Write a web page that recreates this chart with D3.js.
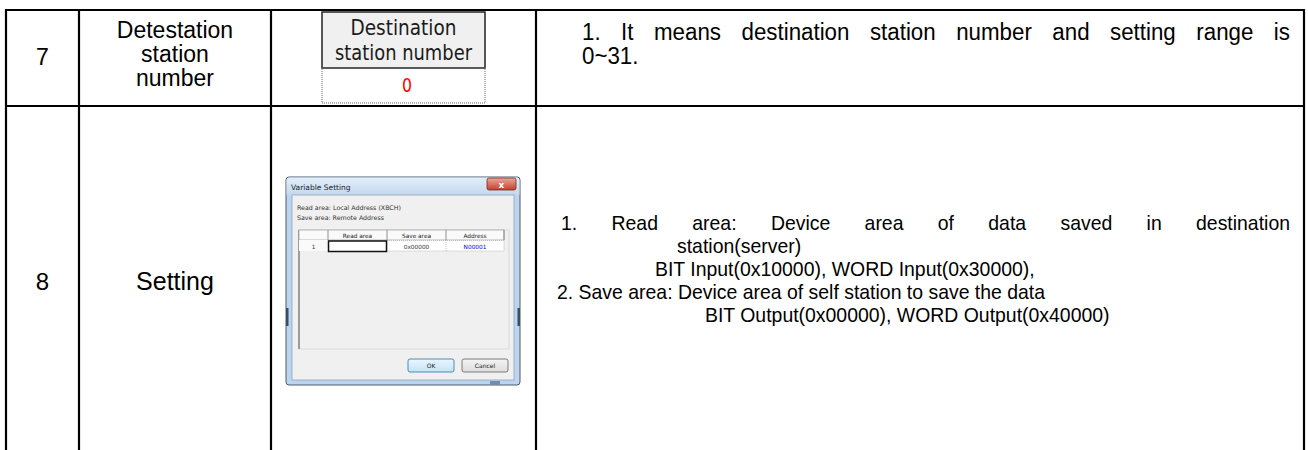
<!DOCTYPE html>
<html><head><meta charset="utf-8">
<script src="https://cdn.jsdelivr.net/npm/d3@7"></script>
<style>
html,body{margin:0;padding:0;background:#fff;overflow:hidden;}
svg{display:block;}
</style></head><body>
<svg id="chart" width="1308" height="450"></svg>
<script>
// ---- data ----
const rowNumbers = ["7", "8"];
const rowNames = [["Detestation", "station", "number"], ["Setting"]];
const row7Desc = ["1. It means destination station number and setting range is", "0~31."];
const row8Desc = [
  "1. Read area: Device area of data saved in destination",
  "station(server)",
  "BIT Input(0x10000), WORD Input(0x30000),",
  "2. Save area: Device area of self station to save the data",
  "BIT Output(0x00000), WORD Output(0x40000)"
];
const fieldLabel = ["Destination", "station number"];
const fieldValue = ["0"];
const dialogTitle = ["Variable Setting"];
const dialogInfo = ["Read area: Local Address (XBCH)", "Save area: Remote Address"];
const gridHeaders = ["", "Read area", "Save area", "Address"];
const gridRow = ["1", "", "0x00000", "N00001"];
const dialogButtons = ["OK", "Cancel"];

// ---- layout ----
const svg = d3.select("#chart");
const FONT = "'Liberation Sans', Arial, sans-serif";
const colX = d3.scaleOrdinal().domain([0, 1, 2, 3, 4]).range([6, 79, 271, 536, 1304]);
const rowY = d3.scaleOrdinal().domain([0, 1, 2]).range([10, 106, 470]);

// table borders
const grid = svg.append("g").attr("stroke", "#000").attr("stroke-width", 2.2);
[0, 1, 2, 3, 4].forEach(c => grid.append("line")
  .attr("x1", colX(c)).attr("x2", colX(c)).attr("y1", rowY(0) - 1).attr("y2", rowY(2)));
[0, 1].forEach(r => grid.append("line")
  .attr("x1", colX(0) - 1).attr("x2", colX(4) + 1).attr("y1", rowY(r)).attr("y2", rowY(r)));

// column 1: numbers
const numBase = [65, 290];
const numSize = [23, 24];
svg.selectAll("text.num").data(rowNumbers).join("text").attr("class", "num")
  .attr("x", (d, i) => (colX(0) + colX(1)) / 2)
  .attr("y", (d, i) => numBase[i])
  .attr("text-anchor", "middle").attr("font-family", FONT).attr("font-size", (d, i) => numSize[i])
  .text(d => d);

// column 2: names
const nameBase = [[38, 62, 86], [290]];
const nameSize = [23, 25];
rowNames.forEach((lines, r) => {
  svg.append("g").selectAll("text").data(lines).join("text")
    .attr("x", (colX(1) + colX(2)) / 2)
    .attr("y", (d, i) => nameBase[r][i])
    .attr("text-anchor", "middle").attr("font-family", FONT).attr("font-size", nameSize[r])
    .text(d => d);
});

// column 4: descriptions
function descLine(g, str, x, y, justifyTo, size, k) {
  if (justifyTo == null) {
    const t = g.append("text").attr("x", x).attr("y", y)
      .attr("font-family", FONT).attr("font-size", size).text(str);
    const w = t.node().getComputedTextLength();
    t.attr("textLength", w * k).attr("lengthAdjust", "spacingAndGlyphs");
  } else {
    const words = str.split(" ");
    const ws = words.map(w => {
      const t = g.append("text").attr("font-family", FONT).attr("font-size", size).text(w);
      const len = t.node().getComputedTextLength() * k;
      t.remove();
      return len;
    });
    const gap = (justifyTo - x - d3.sum(ws)) / (words.length - 1);
    let cx = x;
    words.forEach((w, i) => {
      g.append("text").attr("x", cx).attr("y", y)
        .attr("font-family", FONT).attr("font-size", size)
        .attr("textLength", ws[i]).attr("lengthAdjust", "spacingAndGlyphs").text(w);
      cx += ws[i] + gap;
    });
  }
}
const descG = svg.append("g");
const row7Pos = [[582, 40, 1290], [582, 64, null]];
const row8Pos = [[561, 230, 1290], [677, 253, null], [655, 276, null], [557, 299, null], [705, 322, null]];
row7Desc.forEach((s, i) => descLine(descG, s, row7Pos[i][0], row7Pos[i][1], row7Pos[i][2], 23, 0.97));
row8Desc.forEach((s, i) => descLine(descG, s, row8Pos[i][0], row8Pos[i][1], row8Pos[i][2], 21, 0.925));

// column 3 row 1: field snapshot
const fg = svg.append("g").attr("transform", "translate(322,12)");
fg.append("rect").attr("x", 0).attr("y", 0).attr("width", 163).attr("height", 56)
  .attr("fill", "#f0f0f0").attr("stroke", "#222").attr("stroke-width", 1.5);
const fieldW = [106, 137];
fg.selectAll("text.lbl").data(fieldLabel).join("text").attr("class", "lbl")
  .attr("x", 81.5).attr("y", (d, i) => 23 + i * 25)
  .attr("text-anchor", "middle").attr("font-family", "'DejaVu Sans', sans-serif")
  .attr("font-size", 22).attr("fill", "#1a1a1a")
  .attr("textLength", (d, i) => fieldW[i]).attr("lengthAdjust", "spacingAndGlyphs")
  .text(d => d);
fg.append("rect").attr("x", 0).attr("y", 56).attr("width", 163).attr("height", 35)
  .attr("fill", "none").attr("stroke", "#666").attr("stroke-width", 1).attr("stroke-dasharray", "1,1");
fg.selectAll("text.val").data(fieldValue).join("text").attr("class", "val")
  .attr("x", 85).attr("y", 80).attr("text-anchor", "middle")
  .attr("font-family", "'DejaVu Sans', sans-serif").attr("font-size", 20).attr("fill", "#ff0000")
  .attr("textLength", 10).attr("lengthAdjust", "spacingAndGlyphs")
  .text(d => d);

// column 3 row 2: dialog snapshot
const defs = svg.append("defs");
const g1 = defs.append("linearGradient").attr("id", "titleGrad").attr("x1", 0).attr("x2", 0).attr("y1", 0).attr("y2", 1);
g1.append("stop").attr("offset", "0%").attr("stop-color", "#e3eefa");
g1.append("stop").attr("offset", "100%").attr("stop-color", "#c0d6ee");
const g2 = defs.append("linearGradient").attr("id", "closeGrad").attr("x1", 0).attr("x2", 0).attr("y1", 0).attr("y2", 1);
g2.append("stop").attr("offset", "0%").attr("stop-color", "#e9a99a");
g2.append("stop").attr("offset", "100%").attr("stop-color", "#c2402c");
const g3 = defs.append("linearGradient").attr("id", "okGrad").attr("x1", 0).attr("x2", 0).attr("y1", 0).attr("y2", 1);
g3.append("stop").attr("offset", "0%").attr("stop-color", "#eaf6fd");
g3.append("stop").attr("offset", "100%").attr("stop-color", "#c4e3f6");
const g4 = defs.append("linearGradient").attr("id", "cnGrad").attr("x1", 0).attr("x2", 0).attr("y1", 0).attr("y2", 1);
g4.append("stop").attr("offset", "0%").attr("stop-color", "#f4f4f4");
g4.append("stop").attr("offset", "100%").attr("stop-color", "#dcdcdc");

const dg = svg.append("g").attr("transform", "translate(286,177)");
const SMALL = "'DejaVu Sans', sans-serif";
dg.append("rect").attr("x", 0).attr("y", 0).attr("width", 234).attr("height", 208).attr("rx", 3)
  .attr("fill", "#bcd4ee").attr("stroke", "#4d5b6b").attr("stroke-width", 1);
dg.append("rect").attr("x", 0.5).attr("y", 0.5).attr("width", 233).attr("height", 19).attr("rx", 3)
  .attr("fill", "url(#titleGrad)");
// aero dark streaks
dg.append("rect").attr("x", 0).attr("y", 131).attr("width", 2.5).attr("height", 18).attr("fill", "#33506e");
dg.append("rect").attr("x", 231.5).attr("y", 131).attr("width", 2.5).attr("height", 18).attr("fill", "#33506e");
dg.append("rect").attr("x", 204).attr("y", 204).attr("width", 10).attr("height", 4).attr("fill", "#6f8fb0");
dg.selectAll("text.title").data(dialogTitle).join("text").attr("class", "title")
  .attr("x", 5).attr("y", 13).attr("font-family", SMALL).attr("font-size", 7.5).attr("fill", "#222")
  .text(d => d);
dg.append("rect").attr("x", 201).attr("y", 1).attr("width", 29).attr("height", 12).attr("rx", 2)
  .attr("fill", "url(#closeGrad)").attr("stroke", "#7e2a1e").attr("stroke-width", 0.8);
dg.append("text").attr("x", 215.5).attr("y", 10.5).attr("text-anchor", "middle")
  .attr("font-family", SMALL).attr("font-size", 9).attr("font-weight", "bold").attr("fill", "#fff").text("x");
// client area
dg.append("rect").attr("x", 6).attr("y", 18).attr("width", 222).attr("height", 185)
  .attr("fill", "#f0f0f0").attr("stroke", "#8ea4bd").attr("stroke-width", 0.8);
dg.selectAll("text.info").data(dialogInfo).join("text").attr("class", "info")
  .attr("x", 11).attr("y", (d, i) => 33 + i * 10).attr("font-family", SMALL).attr("font-size", 6.3)
  .attr("fill", "#333").text(d => d);
// grid
const gx = d3.scaleOrdinal().domain([0, 1, 2, 3, 4]).range([13, 42, 101, 160, 218]);
dg.append("rect").attr("x", 13).attr("y", 53).attr("width", 210).attr("height", 119)
  .attr("fill", "#f0f0f0").attr("stroke", "#d4d4d4").attr("stroke-width", 0.8);
dg.append("line").attr("x1", 13).attr("x2", 13).attr("y1", 53).attr("y2", 172)
  .attr("stroke", "#8a8a8a").attr("stroke-width", 1.6);
dg.append("rect").attr("x", 13).attr("y", 53).attr("width", 205).attr("height", 10)
  .attr("fill", "#fafafa").attr("stroke", "#9a9a9a").attr("stroke-width", 0.7);
[1, 2, 3, 4].forEach(c => dg.append("line").attr("x1", gx(c)).attr("x2", gx(c)).attr("y1", 53).attr("y2", 63)
  .attr("stroke", "#777").attr("stroke-width", 0.8));
dg.selectAll("text.hdr").data(gridHeaders).join("text").attr("class", "hdr")
  .attr("x", (d, i) => (gx(i) + gx(i + 1)) / 2).attr("y", 60.5)
  .attr("text-anchor", "middle").attr("font-family", SMALL).attr("font-size", 5.8).attr("fill", "#222")
  .text(d => d);
dg.append("rect").attr("x", 13).attr("y", 63).attr("width", 29).attr("height", 11).attr("fill", "#fafafa");
dg.append("rect").attr("x", 101).attr("y", 63.5).attr("width", 117).attr("height", 10.5)
  .attr("fill", "#fff").attr("stroke", "#aaa").attr("stroke-width", 0.7).attr("stroke-dasharray", "1,1");
dg.append("line").attr("x1", 160).attr("x2", 160).attr("y1", 63).attr("y2", 74)
  .attr("stroke", "#aaa").attr("stroke-width", 0.7).attr("stroke-dasharray", "1,1");
dg.append("rect").attr("x", 42.5).attr("y", 64).attr("width", 58).attr("height", 10.5)
  .attr("fill", "#fff").attr("stroke", "#111").attr("stroke-width", 1.5);
const rowColors = ["#333", "#333", "#333", "#0000ee"];
dg.selectAll("text.cell").data(gridRow).join("text").attr("class", "cell")
  .attr("x", (d, i) => (gx(i) + gx(i + 1)) / 2).attr("y", 71.5)
  .attr("text-anchor", "middle").attr("font-family", SMALL).attr("font-size", 5.8)
  .attr("fill", (d, i) => rowColors[i]).text(d => d);
// buttons
const btnX = [122, 176];
dg.selectAll("rect.btn").data(dialogButtons).join("rect").attr("class", "btn")
  .attr("x", (d, i) => btnX[i]).attr("y", 182).attr("width", 46).attr("height", 13).attr("rx", 2)
  .attr("fill", (d, i) => i === 0 ? "url(#okGrad)" : "url(#cnGrad)")
  .attr("stroke", (d, i) => i === 0 ? "#3c7fb1" : "#707070").attr("stroke-width", 0.9);
dg.selectAll("text.btn").data(dialogButtons).join("text").attr("class", "btn")
  .attr("x", (d, i) => btnX[i] + 23).attr("y", 191)
  .attr("text-anchor", "middle").attr("font-family", SMALL).attr("font-size", 6)
  .attr("fill", "#222").text(d => d);
</script>
</body></html>
